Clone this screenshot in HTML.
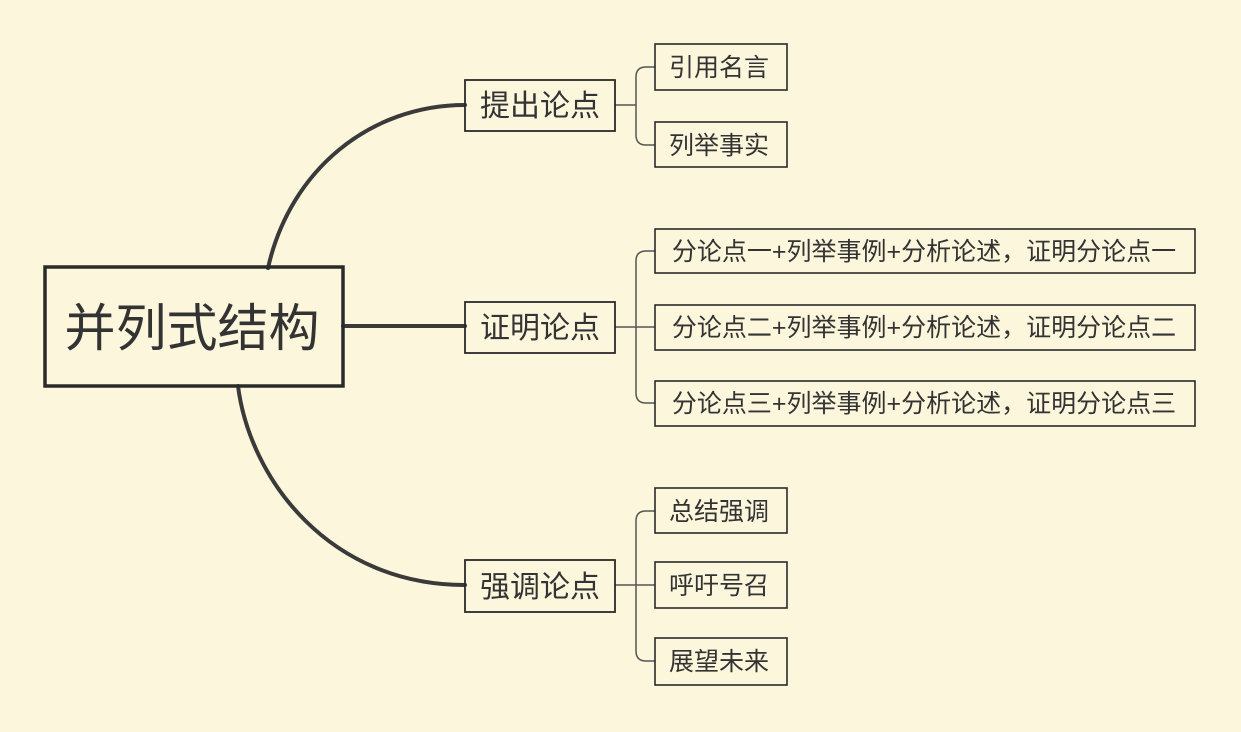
<!DOCTYPE html>
<html><head><meta charset="utf-8"><style>
html,body{margin:0;padding:0;background:#fcf7dc;}
svg{display:block}
text{font-family:"Liberation Sans","Noto Sans CJK SC",sans-serif;fill:#333;}
</style></head><body>
<svg width="1241" height="732" viewBox="0 0 1241 732">
<rect width="1241" height="732" fill="#fcf7dc"/>
<g fill="none" stroke="#3a3a3a" stroke-width="4" stroke-linecap="round">
<path d="M268,268 C290,170 370,105 465,105"/>
<path d="M343,326 L465,326"/>
<path d="M238,386 C250,480 330,585 465,585"/>
</g>
<g fill="none" stroke="#555" stroke-width="1.5">
<path d="M615,105 H636 M655,67 H646 Q636,67 636,77 V135 Q636,145 646,145 H655"/>
<path d="M615,327 H636 M655,251 H646 Q636,251 636,261 V393 Q636,403 646,403 H655 M636,327 H655"/>
<path d="M615,585 H636 M655,511 H646 Q636,511 636,521 V651 Q636,661 646,661 H655 M636,585 H655"/>
</g>
<g fill="none" stroke="#2a2a2a">
<rect x="45" y="267" width="298" height="119" stroke-width="3.5"/>
<rect x="465" y="80" width="150" height="51" stroke-width="1.8"/>
<rect x="465" y="302" width="150" height="51" stroke-width="1.8"/>
<rect x="465" y="560" width="150" height="52" stroke-width="1.8"/>
<g stroke-width="1.6">
<rect x="655" y="44" width="132" height="46"/>
<rect x="655" y="122" width="132" height="45"/>
<rect x="655" y="229" width="540" height="44"/>
<rect x="655" y="305" width="540" height="45"/>
<rect x="655" y="381" width="540" height="45"/>
<rect x="655" y="488" width="132" height="45"/>
<rect x="655" y="562" width="132" height="46"/>
<rect x="655" y="638" width="132" height="47"/>
</g>
</g>
<text x="192" y="346" font-size="51" text-anchor="middle">并列式结构</text>
<g font-size="30" text-anchor="middle">
<text x="540" y="116">提出论点</text>
<text x="540" y="338">证明论点</text>
<text x="540" y="597">强调论点</text>
</g>
<g font-size="25" text-anchor="middle">
<text x="719" y="76">引用名言</text>
<text x="719" y="154">列举事实</text>
<text x="924" y="260">分论点一+列举事例+分析论述，证明分论点一</text>
<text x="924" y="336">分论点二+列举事例+分析论述，证明分论点二</text>
<text x="924" y="412">分论点三+列举事例+分析论述，证明分论点三</text>
<text x="719" y="520">总结强调</text>
<text x="719" y="594">呼吁号召</text>
<text x="719" y="670">展望未来</text>
</g>
</svg>
</body></html>
